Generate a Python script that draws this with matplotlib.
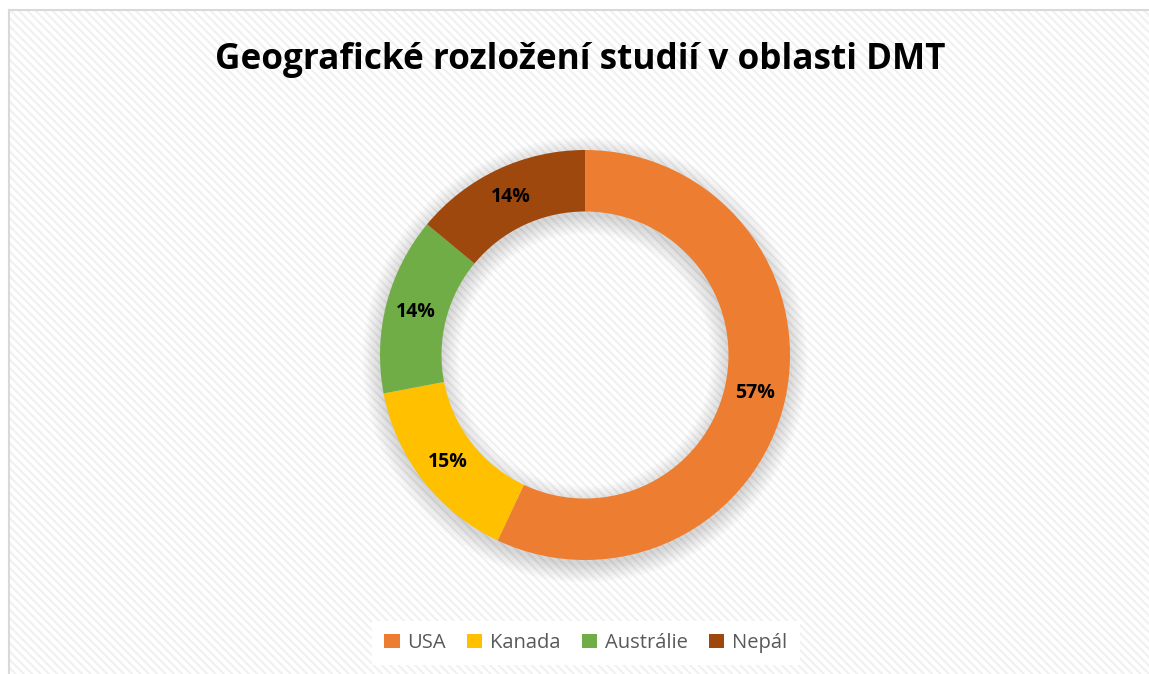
import matplotlib
matplotlib.use("Agg")
import matplotlib.pyplot as plt
from matplotlib.patches import Rectangle, Patch, Wedge
from matplotlib.lines import Line2D
import numpy as np

title = "Geografické rozložení studií v oblasti DMT"
categories = ["USA", "Kanada", "Austrálie", "Nepál"]
values = [57, 15, 14, 14]
labels = ["57%", "15%", "14%", "14%"]
colors = ["#ED7D31", "#FFC000", "#70AD47", "#9E480E"]

W, H = 1149, 674
plt.rcParams['font.family'] = ['Open Sans', 'DejaVu Sans']
plt.rcParams['hatch.linewidth'] = 1.4

fig = plt.figure(figsize=(W / 100, H / 100), dpi=100)
fig.patch.set_facecolor("white")

def fx(px):
    return px / W

def fy(py):
    return 1 - py / H

# hatched background inside the chart frame
bg = Rectangle((fx(9), -0.1), 1.2, fy(10) + 0.1, transform=fig.transFigure,
               facecolor="white", edgecolor="#f0f0f0", hatch="\\\\\\\\",
               linewidth=0, zorder=-10)
fig.patches.append(bg)
# frame (left and top edges only visible)
fig.lines.append(Line2D([fx(9), fx(9)], [fy(10), 0], transform=fig.transFigure,
                        color="#d9d9d9", linewidth=1.5, zorder=-5))
fig.lines.append(Line2D([fx(9), 1], [fy(10), fy(10)], transform=fig.transFigure,
                        color="#d9d9d9", linewidth=1.5, zorder=-5))

# title
fig.text(fx(580), fy(60), title, ha="center", va="center", fontsize=25.3,
         fontweight="bold", color="black")

# donut axes
cx, cy, R = 585, 355, 205
ax = fig.add_axes([fx(cx - R), fy(cy + R), 2 * R / W, 2 * R / H])
ax.set_facecolor("none")
ax.axis("off")

width = 0.3
# soft shadow
for k in range(8):
    d = k * 0.012
    sh = Wedge((0.0, -0.025), 1 + d, 0, 360, width=width + 2 * d,
               facecolor="black", alpha=0.018, linewidth=0, zorder=0,
               clip_on=False)
    ax.add_patch(sh)

wedges, _ = ax.pie(values, colors=colors, startangle=90, counterclock=False,
                   radius=1, wedgeprops=dict(width=width, linewidth=0))
for w in wedges:
    w.set_zorder(2)

total = sum(values)
start = 90.0
for v, lab in zip(values, labels):
    ang = np.deg2rad(start - v / total * 360 / 2)
    r = 1 - width / 2
    ax.text(r * np.cos(ang), r * np.sin(ang), lab, ha="center", va="center",
            fontsize=14, fontweight="bold", color="black", zorder=3)
    start -= v / total * 360

ax.set_xlim(-1, 1)
ax.set_ylim(-1, 1)
ax.set_aspect("equal")

handles = [Patch(facecolor=c, edgecolor="none") for c in colors]
leg = fig.legend(handles, categories, loc="center", bbox_to_anchor=(fx(586), fy(643)),
                 ncol=4, frameon=True, fontsize=14.5, handlelength=0.75,
                 handleheight=0.75, handletextpad=0.4, columnspacing=1.05,
                 borderpad=0.6, fancybox=False)
leg.get_frame().set_facecolor("white")
leg.get_frame().set_edgecolor("none")
leg.get_frame().set_alpha(1)
for t in leg.get_texts():
    t.set_color("#595959")

fig.savefig("out.png", dpi=100)
